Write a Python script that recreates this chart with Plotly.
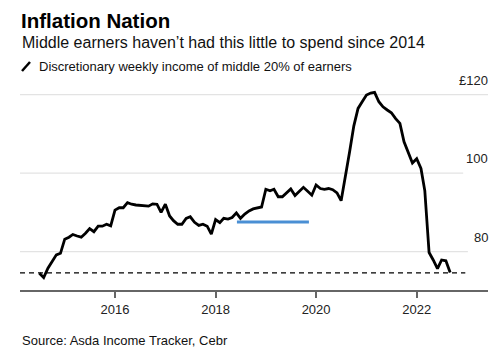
import plotly.graph_objects as go
import pandas as pd

# Monthly discretionary weekly income (GBP), Jul 2014 - Sep 2022
dates = pd.date_range("2014-07-01", periods=99, freq="MS")
income = [
    74.5, 73.4, 75.8, 77.6, 79.2, 79.6, 83.2, 83.7, 84.4, 84.0,
    83.7, 84.7, 85.9, 85.1, 86.5, 86.5, 87.0, 86.6, 90.6, 91.2,
    91.2, 92.5, 92.1, 91.9, 91.8, 91.7, 91.6, 92.2, 92.1, 90.0,
    92.1, 89.1, 87.9, 87.0, 87.0, 88.5, 88.9, 87.5, 86.7, 87.0,
    86.5, 84.5, 88.2, 87.4, 88.5, 88.3, 88.7, 89.9, 88.5, 89.6,
    90.4, 90.9, 91.1, 91.4, 95.9, 95.5, 95.9, 94.0, 94.0, 95.0,
    96.0, 94.3, 95.3, 96.4, 95.4, 94.4, 97.0, 96.1, 95.9, 96.1,
    95.8, 95.0, 93.0, 99.0, 105.5, 112.0, 116.5, 118.2, 119.9, 120.4,
    120.6, 118.2, 116.9, 116.1, 115.4, 113.9, 112.7, 108.0, 105.0, 102.6,
    103.7, 101.2, 95.5, 79.8, 77.9, 75.7, 77.9, 77.7, 74.7,
]

blue_x = ["2018-06-05", "2019-11-10"]
blue_y = [87.6, 87.6]

ref_x = ["2014-02-10", "2022-12-20"]
ref_y = [74.6, 74.6]

grid_vals = [80, 100, 120]
grid_labels = ["80", "100", "£120"]
grid_ends = [0.957, 0.947, 1.0]

x_ticks = ["2016-01-01", "2018-01-01", "2020-01-01", "2022-01-01"]
x_tick_labels = ["2016", "2018", "2020", "2022"]

FONT = "Liberation Sans, Arial, Helvetica, sans-serif"

# page body has an 8px margin; plot area placed accordingly
L, T, R, B = 12, 80, 20, 76
PW, PH = 500 - L - R, 358 - T - B

fig = go.Figure()

for v, end in zip(grid_vals, grid_ends):
    fig.add_shape(type="line", xref="paper", yref="y", x0=0, x1=end, y0=v, y1=v,
                  line=dict(color="#e3e3e3", width=1.3), layer="below")

fig.add_trace(go.Scatter(x=ref_x, y=ref_y, mode="lines",
                         line=dict(color="#000000", width=1.4, dash="5px,4px"),
                         hoverinfo="skip", showlegend=False))
fig.add_trace(go.Scatter(x=blue_x, y=blue_y, mode="lines",
                         line=dict(color="#4a8fd4", width=3),
                         hoverinfo="skip", showlegend=False))
fig.add_trace(go.Scatter(x=dates, y=income, mode="lines",
                         line=dict(color="#000000", width=2.8),
                         showlegend=False))

for v, lab in zip(grid_vals, grid_labels):
    fig.add_annotation(xref="paper", yref="y", x=1.005, y=v, text=lab,
                       showarrow=False, xanchor="right", yanchor="bottom", yshift=5,
                       font=dict(family=FONT, size=13, color="#222222"))

# Title, subtitle, legend, source
fig.add_annotation(xref="paper", yref="paper", x=0, y=1.0, yshift=80, text="<b>Inflation Nation</b>",
                   showarrow=False, xanchor="left", yanchor="top", borderpad=0,
                   font=dict(family=FONT, size=20.5, color="#000000"))
fig.add_annotation(xref="paper", yref="paper", x=0, y=1.0, yshift=46,
                   text="Middle earners haven’t had this little to spend since 2014",
                   showarrow=False, xanchor="left", yanchor="middle",
                   font=dict(family=FONT, size=16, color="#111111"))
fig.add_annotation(xref="paper", yref="paper", x=0, y=1.0, yshift=22, xshift=17,
                   text="Discretionary weekly income of middle 20% of earners",
                   showarrow=False, xanchor="left", yanchor="middle",
                   font=dict(family=FONT, size=13, color="#111111"))
fig.add_shape(type="line", xref="paper", yref="paper",
              x0=2 / PW, x1=10 / PW,
              y0=1 + 17 / PH, y1=1 + 26 / PH,
              line=dict(color="#000000", width=2.5))
fig.add_annotation(xref="paper", yref="paper", x=0, y=0, yshift=-50,
                   text="Source: Asda Income Tracker, Cebr",
                   showarrow=False, xanchor="left", yanchor="middle",
                   font=dict(family=FONT, size=13, color="#111111"))

fig.update_layout(
    width=500, height=358,
    margin=dict(l=L, r=R, t=T, b=B),
    paper_bgcolor="white", plot_bgcolor="white",
    font=dict(family=FONT, size=13, color="#222222"),
    xaxis=dict(range=["2014-02-10", "2023-06-03"], tickvals=x_ticks, ticktext=x_tick_labels,
               showgrid=False, zeroline=False, showline=True, linecolor="#666666", linewidth=2,
               ticks="outside", ticklen=6, tickwidth=1.5, tickcolor="#666666",
               tickfont=dict(family=FONT, size=13, color="#222222")),
    yaxis=dict(range=[70.25, 121.7], showgrid=False, zeroline=False, showticklabels=False,
               showline=False),
    hovermode=False,
)

fig.write_html("out.html")
